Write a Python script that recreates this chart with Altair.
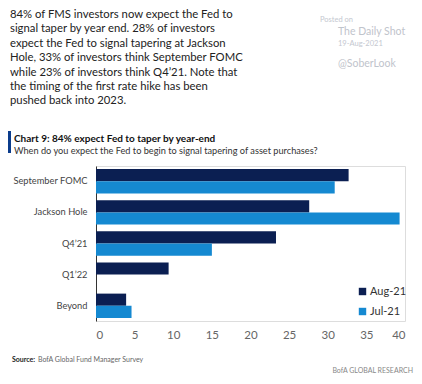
import altair as alt
import pandas as pd

categories = ["September FOMC", "Jackson Hole", "Q4’21", "Q1’22", "Beyond"]
aug_21 = [32.7, 27.6, 23.3, 9.4, 3.9]
jul_21 = [30.9, 39.3, 15.0, None, 4.6]
series = ["Aug-21", "Jul-21"]
colors = ["#0b1f52", "#1589d1"]

header_lines = [
    "84% of FMS investors now expect the Fed to",
    "signal taper by year end. 28% of investors",
    "expect the Fed to signal tapering at Jackson",
    "Hole, 33% of investors think September FOMC",
    "while 23% of investors think Q4’21. Note that",
    "the timing of the first rate hike has been",
    "pushed back into 2023.",
]
chart_title = "Chart 9: 84% expect Fed to taper by year-end"
chart_subtitle = "When do you expect the Fed to begin to signal tapering of asset purchases?"

rows = []
for c, a, j in zip(categories, aug_21, jul_21):
    if a is not None:
        rows.append({"cat": c, "series": "Aug-21", "value": a})
    if j is not None:
        rows.append({"cat": c, "series": "Jul-21", "value": j})
df = pd.DataFrame(rows)

FONT = "Lato"
one = pd.DataFrame({"a": [0]})

bars = alt.Chart(df).mark_bar().encode(
    x=alt.X("value:Q", scale=alt.Scale(domain=[0, 40], nice=False),
            axis=alt.Axis(values=[0, 5, 10, 15, 20, 25, 30, 35, 40], title=None,
                          grid=False, domain=False, ticks=False, labelPadding=8,
                          labelFontSize=11.5, labelColor="#666666", labelFont=FONT)),
    y=alt.Y("cat:N", sort=categories,
            scale=alt.Scale(paddingInner=0.22, paddingOuter=0.1),
            axis=alt.Axis(title=None, ticks=False, domain=True, domainColor="#333333",
                          labelPadding=9, labelFontSize=9.3, labelColor="#444444",
                          labelFont=FONT)),
    yOffset=alt.YOffset("series:N", sort=series),
    color=alt.Color("series:N", sort=series,
                    scale=alt.Scale(domain=series, range=colors),
                    legend=alt.Legend(title=None, orient="none", legendX=261, legendY=120,
                                      symbolType="square", symbolSize=55,
                                      labelFontSize=11, labelColor="#333333",
                                      labelFont=FONT, rowPadding=8, labelOffset=2,
                                      symbolStrokeWidth=0)),
)

def text_layer(txt, x, y, size, color, weight="normal", align="left"):
    return alt.Chart(one).mark_text(
        align=align, baseline="middle", fontSize=size, color=color,
        fontWeight=weight, font=FONT
    ).encode(x=alt.value(x), y=alt.value(y), text=alt.value(txt))

layers = [bars]
for i, line in enumerate(header_lines):
    layers.append(text_layer(line, -86, -151 + i * 14.4, 11.3, "#222222"))

layers += [
    text_layer("Posted on", 224, -146, 7.5, "#c4c8d0"),
    text_layer("The Daily Shot", 242, -134, 10.5, "#bfc4cc"),
    text_layer("19-Aug-2021", 242, -122, 7.5, "#c4c8d0"),
    text_layer("@SoberLook", 242, -102, 10.5, "#bfc4cc"),
    alt.Chart(one).mark_rect(color="#0b3c8c").encode(
        x=alt.value(-88), x2=alt.value(-85), y=alt.value(-35), y2=alt.value(-13)),
    text_layer(chart_title, -82, -27, 10, "#111111", weight="bold"),
    text_layer(chart_subtitle, -82, -15, 9.2, "#333333"),
    text_layer("Source:", -84, 194, 7, "#222222", weight="bold"),
    text_layer("BofA Global Fund Manager Survey", -58, 194, 7, "#666666"),
    text_layer("BofA GLOBAL RESEARCH", 317, 205, 7, "#888888", align="right"),
]

chart = alt.layer(*layers).properties(
    width=309, height=155,
    autosize=alt.AutoSizeParams(type="none"),
    padding={"left": 88, "top": 158, "right": 9, "bottom": 55},
).configure_view(stroke=None).configure(background="white")

chart.save("out.html", embed_options={"renderer": "svg", "actions": False})
